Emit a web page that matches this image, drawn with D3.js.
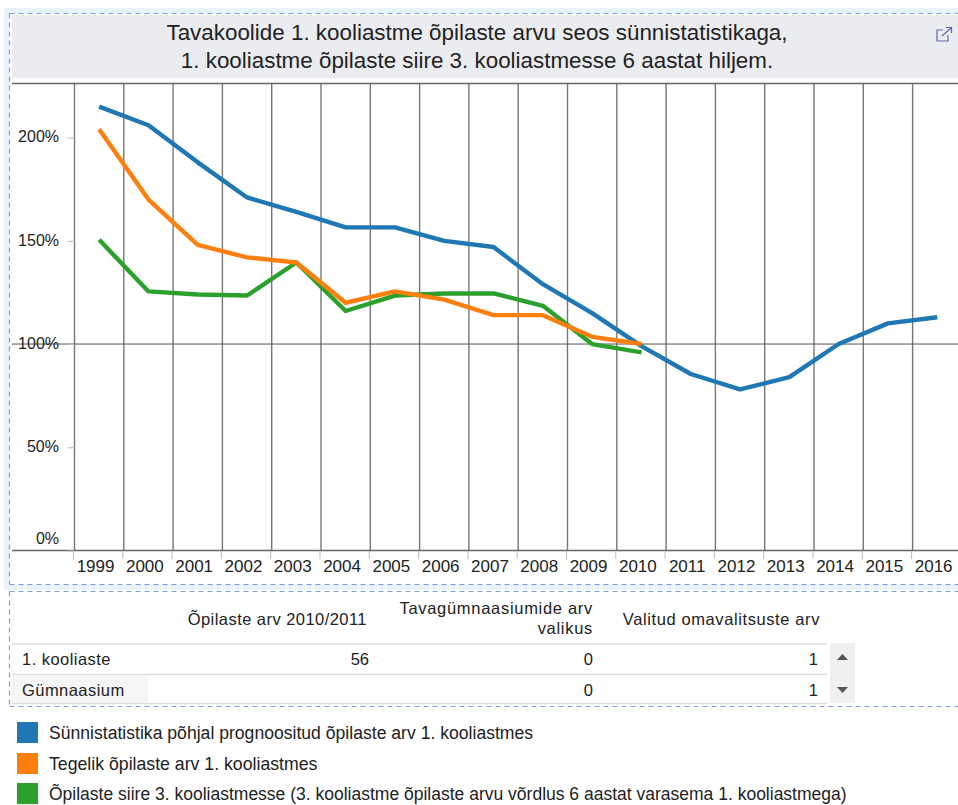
<!DOCTYPE html>
<html><head><meta charset="utf-8">
<script src="https://cdn.jsdelivr.net/npm/d3@7/dist/d3.min.js"></script>
<style>html,body{margin:0;padding:0;background:#fff;overflow:hidden}svg{display:block;font-family:"Liberation Sans",Arial,sans-serif}</style>
</head><body><div id="c"></div>
<script>
const years = [1999,2000,2001,2002,2003,2004,2005,2006,2007,2008,2009,2010,2011,2012,2013,2014,2015,2016];
const predicted = [215,206,188,171,164,156.5,156.5,150,147,129,115,99,85.5,78,84,100,110,113];
const actual = [204,170,148,142,139.5,120,125.5,121.5,114,114,103.5,100];
const transition = [150.5,125.5,124,123.5,139.5,116,123.5,124.5,124.5,118.5,100,96];
const yTicks = [0,50,100,150,200];
const titleLines = ["Tavakoolide 1. kooliastme õpilaste arvu seos sünnistatistikaga,","1. kooliastme õpilaste siire 3. kooliastmesse 6 aastat hiljem."];
const seriesNames = ["Sünnistatistika põhjal prognoositud õpilaste arv 1. kooliastmes","Tegelik õpilaste arv 1. kooliastmes","Õpilaste siire 3. kooliastmesse (3. kooliastme õpilaste arvu võrdlus 6 aastat varasema 1. kooliastmega)"];
const seriesColors = ["#1f77b4","#ff7f0e","#2ca02c"];
const tableRows = ["1. kooliaste","Gümnaasium"];
const col1 = ["56",""];
const col2 = ["0","0"];
const col3 = ["1","1"];

const W=958,H=805;
const svg=d3.select("#c").append("svg").attr("width",W).attr("height",H);
const tc="#222";
svg.append("rect").attr("x",4).attr("y",8).attr("width",W-4).attr("height",582).attr("fill","#e9f3fb");
svg.append("rect").attr("x",9.5).attr("y",13.5).attr("width",W).attr("height",571).attr("fill","#fff");
const dash=(x1,y1,x2,y2)=>svg.append("line").attr("x1",x1).attr("y1",y1).attr("x2",x2).attr("y2",y2)
  .attr("stroke","#7f9de0").attr("stroke-width",1.2).attr("stroke-dasharray","5 4");
dash(9.5,13.5,W,13.5);dash(9.5,13.5,9.5,584.5);dash(9.5,584.5,W,584.5);
dash(9.5,591.5,W,591.5);dash(9.5,591.5,9.5,706.5);dash(9.5,706.5,W,706.5);
// title
svg.append("rect").attr("x",12).attr("y",15).attr("width",W-12).attr("height",63).attr("fill","#ebecf0");
svg.selectAll("text.t").data(titleLines).join("text").attr("class","t")
  .attr("x",477).attr("y",(d,i)=>40+i*27.5).attr("text-anchor","middle")
  .attr("font-size",22.4).attr("fill",tc).text(d=>d);
// popout icon
const ic=svg.append("g").attr("fill","none").attr("stroke","#5a6aa8").attr("stroke-width",1.2);
ic.append("path").attr("d","M943 30H937V41H948V35");
ic.append("path").attr("d","M942 36L951 28M946 27.5H951.5V33");

const x=d3.scaleBand().domain(years).range([74.5,74.5+49.3*18]);
const y=d3.scaleLinear().domain([0,226.2]).range([550.5,83.5]);
const g=svg.append("g");
g.selectAll("line.v").data(years).join("line").attr("class","v")
  .attr("x1",d=>x(d)).attr("x2",d=>x(d))
  .attr("y1",83).attr("y2",550).attr("stroke","#777").attr("stroke-width",1.4);
g.append("line").attr("x1",12).attr("x2",W).attr("y1",83.5).attr("y2",83.5).attr("stroke","#666").attr("stroke-width",1.4);
g.append("line").attr("x1",12).attr("x2",W).attr("y1",y(100)).attr("y2",y(100)).attr("stroke","#555").attr("stroke-width",1);
g.append("line").attr("x1",12).attr("x2",W).attr("y1",y(0)).attr("y2",y(0)).attr("stroke","#666").attr("stroke-width",1.4);
// y axis
const ya=d3.axisLeft(y).tickValues(yTicks).tickFormat(d=>d+"%").tickSize(7).tickPadding(8);
const yg=svg.append("g").attr("transform","translate(74.5,0)").call(ya);
yg.select(".domain").remove();
yg.selectAll(".tick line").attr("stroke","#bbb");
yg.selectAll(".tick text").attr("font-size",16).attr("fill",tc).attr("font-family","Liberation Sans")
  .attr("dy",(d)=>d===0?"-0.45em":"0.27em").attr("x",-15.5);
// x axis
const xa=d3.axisBottom(x).tickSize(0).tickPadding(9);
const xg=svg.append("g").attr("transform","translate(0,550.5)").call(xa);
xg.select(".domain").remove();
xg.selectAll(".tick text").attr("font-size",17).attr("fill",tc).attr("font-family","Liberation Sans").attr("dx",-3.6);
g.selectAll("line.xt").data(years).join("line").attr("class","xt")
  .attr("x1",d=>x(d)-1).attr("x2",d=>x(d)-1)
  .attr("y1",551).attr("y2",559).attr("stroke","#bbb");
// lines
const line=d3.line().x((d,i)=>x(years[i])+x.bandwidth()/2).y(d=>y(d));
[[predicted,0],[transition,2],[actual,1]].forEach(([s,c])=>{
  svg.append("path").attr("d",line(s)).attr("fill","none").attr("stroke",seriesColors[c])
    .attr("stroke-width",4.4).attr("stroke-linejoin","round");
});
// table
const tf=16.5, ls=.45;
const hdr=svg.append("g").attr("font-size",tf).attr("fill",tc);
hdr.append("text").attr("x",367).attr("y",625).attr("text-anchor","end").attr("letter-spacing",ls).text("Õpilaste arv 2010/2011");
hdr.append("text").attr("x",593).attr("y",614).attr("text-anchor","end").attr("letter-spacing",.7).text("Tavagümnaasiumide arv");
hdr.append("text").attr("x",593).attr("y",634).attr("text-anchor","end").attr("letter-spacing",.7).text("valikus");
hdr.append("text").attr("x",820).attr("y",625).attr("text-anchor","end").attr("letter-spacing",.6).text("Valitud omavalitsuste arv");
[644,674.5,703.5].forEach(v=>svg.append("line").attr("x1",12).attr("x2",827).attr("y1",v).attr("y2",v).attr("stroke","#ddd").attr("stroke-width",1.5));
svg.append("rect").attr("x",12).attr("y",676).attr("width",136).attr("height",27).attr("fill","#f5f5f5");
const rowY=[665,695.5];
tableRows.forEach((r,i)=>{
  const t=svg.append("g").attr("font-size",tf).attr("fill",tc);
  t.append("text").attr("x",22).attr("y",rowY[i]).attr("letter-spacing",ls).text(r);
  t.append("text").attr("x",369).attr("y",rowY[i]).attr("text-anchor","end").text(col1[i]);
  t.append("text").attr("x",593).attr("y",rowY[i]).attr("text-anchor","end").text(col2[i]);
  t.append("text").attr("x",818).attr("y",rowY[i]).attr("text-anchor","end").text(col3[i]);
});
// scrollbar
svg.append("rect").attr("x",830).attr("y",643).attr("width",25).attr("height",60).attr("fill","#f0f0f0");
svg.append("path").attr("d","M837 660L842.5 654L848 660Z").attr("fill","#555");
svg.append("path").attr("d","M837 687L848 687L842.5 693Z").attr("fill","#555");
// legend
const ly=[733,764,794];
const lf=[17.6,17.7,17.5];
seriesNames.forEach((n,i)=>{
  svg.append("rect").attr("x",17).attr("y",ly[i]-11).attr("width",21).attr("height",21).attr("fill",seriesColors[i]);
  svg.append("text").attr("x",49).attr("y",ly[i]+6).attr("font-size",lf[i]).attr("fill",tc).text(n);
});
</script></body></html>
